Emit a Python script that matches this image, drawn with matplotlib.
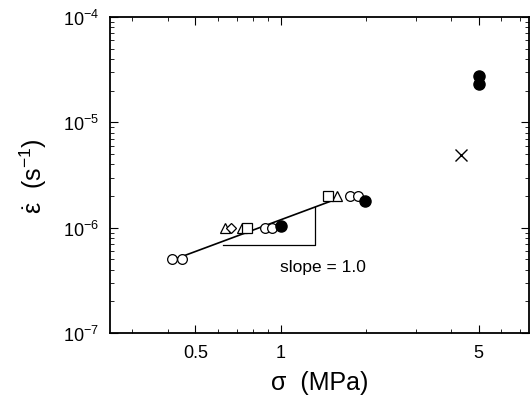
import matplotlib
matplotlib.use("Agg")
import matplotlib.pyplot as plt
from matplotlib.ticker import FixedLocator, NullFormatter, LogLocator

plt.rcParams['font.family'] = ['Liberation Sans', 'DejaVu Sans']
plt.rcParams['mathtext.fontset'] = 'custom'
plt.rcParams['mathtext.rm'] = 'Liberation Sans'
plt.rcParams['mathtext.it'] = 'Liberation Sans:italic'

# data (stress in MPa, strain rate in 1/s)
circ_x = [0.415, 0.447, 0.88, 0.93, 1.75, 1.87]
circ_y = [5e-7, 5e-7, 1e-6, 1e-6, 2e-6, 2e-6]
tri_x = [0.634, 0.73, 1.58]
tri_y = [1e-6, 1e-6, 2e-6]
dia_x = [0.67]
dia_y = [1e-6]
sq_x = [0.76, 1.47]
sq_y = [1e-6, 2e-6]
fill_x = [1.0, 1.99, 5.0, 5.0]
fill_y = [1.05e-6, 1.8e-6, 2.78e-5, 2.34e-5]
cross_x = [4.33]
cross_y = [4.9e-6]

fit_x = [0.42, 1.6]
fit_coef = 1.19e-6
tri_corner = [0.624, 1.32]
tri_base = 6.9e-7

fig = plt.figure(figsize=(5.3, 4.1), dpi=100)
ax = fig.add_axes([0.2075, 0.185, 0.79, 0.771])

ax.plot(fit_x, [fit_coef * v for v in fit_x], color='black', lw=1.2)
ax.plot([tri_corner[0], tri_corner[1], tri_corner[1]],
        [tri_base, tri_base, fit_coef * tri_corner[1]], color='black', lw=0.9)

ax.plot(circ_x, circ_y, 'o', ms=7, mfc='white', mec='black', mew=0.9, ls='none')
ax.plot(tri_x, tri_y, '^', ms=7, mfc='white', mec='black', mew=0.9, ls='none')
ax.plot(dia_x, dia_y, 'D', ms=5, mfc='white', mec='black', mew=0.9, ls='none')
ax.plot(sq_x, sq_y, 's', ms=7, mfc='white', mec='black', mew=0.9, ls='none')
ax.plot(fill_x, fill_y, 'o', ms=8, color='black', ls='none')
ax.plot(cross_x, cross_y, 'x', ms=9, color='black', mew=1.0, ls='none')

ax.text(1.41, 4.26e-7, 'slope = 1.0', ha='center', va='center', fontsize=12.5)

ax.set_xscale('log')
ax.set_yscale('log')
ax.set_xlim(0.25, 7.5)
ax.set_ylim(1e-7, 1e-4)

ax.xaxis.set_major_locator(FixedLocator([0.5, 1, 5]))
ax.set_xticklabels(['0.5', '1', '5'])
ax.xaxis.set_minor_locator(FixedLocator([0.3, 0.4, 0.6, 0.7, 0.8, 0.9, 2, 3, 4, 6, 7]))
ax.xaxis.set_minor_formatter(NullFormatter())
ax.yaxis.set_major_locator(LogLocator(base=10, numticks=10))
ax.yaxis.set_minor_locator(LogLocator(base=10, subs=range(2, 10), numticks=10))
ax.yaxis.set_minor_formatter(NullFormatter())

ax.tick_params(which='both', direction='in', top=True, right=True, labelsize=13)
ax.tick_params(which='major', length=6, pad=8)
ax.tick_params(which='minor', length=3)
for s in ax.spines.values():
    s.set_linewidth(1.3)

ax.set_xlabel('σ  (MPa)', fontsize=18, labelpad=6)
ax.set_ylabel(r'$\dot{\mathrm{\varepsilon}}$  (s$^{-1}$)', fontsize=18, labelpad=10)

fig.savefig('out.png', dpi=100)
